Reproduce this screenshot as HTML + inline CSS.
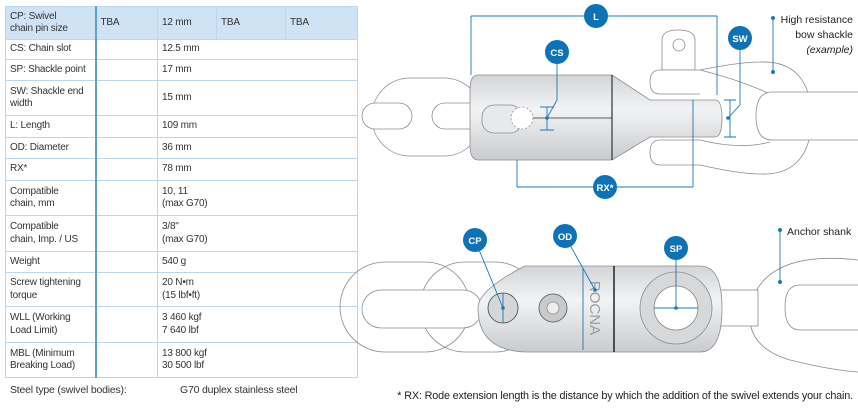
<!DOCTYPE html>
<html><head><meta charset="utf-8"><style>
html,body{margin:0;padding:0;background:#fff;}
body{width:858px;height:411px;position:relative;overflow:hidden;font-family:"Liberation Sans",sans-serif;color:#333;}
table{position:absolute;left:5px;top:6px;width:353px;border-collapse:collapse;font-size:10px;line-height:12.5px;table-layout:fixed;letter-spacing:-0.2px;}
td{border:1px solid #bcd7ec;padding:0 4px;vertical-align:middle;white-space:nowrap;overflow:hidden;}
td.k{border-right:2px solid #5d9fd0;}
tr.h td{background:#cfe3f4;}
.steel{position:absolute;top:384px;font-size:10.5px;letter-spacing:-0.2px;}
svg{position:absolute;left:0;top:0;}
</style></head><body>
<table>
<colgroup><col style="width:90px"><col style="width:62px"><col style="width:59px"><col style="width:69px"><col></colgroup>
<tr class="h" style="height:33px"><td class="k">CP: Swivel<br>chain pin size</td><td>TBA</td><td>12 mm</td><td>TBA</td><td>TBA</td></tr>
<tr style="height:20px"><td class="k">CS: Chain slot</td><td></td><td colspan="3">12.5 mm</td></tr>
<tr style="height:21px"><td class="k">SP: Shackle point</td><td></td><td colspan="3">17 mm</td></tr>
<tr style="height:35px"><td class="k">SW: Shackle end<br>width</td><td></td><td colspan="3">15 mm</td></tr>
<tr style="height:22px"><td class="k">L: Length</td><td></td><td colspan="3">109 mm</td></tr>
<tr style="height:21px"><td class="k">OD: Diameter</td><td></td><td colspan="3">36 mm</td></tr>
<tr style="height:22px"><td class="k">RX*</td><td></td><td colspan="3">78 mm</td></tr>
<tr style="height:35px"><td class="k">Compatible<br>chain, mm</td><td></td><td colspan="3">10, 11<br>(max G70)</td></tr>
<tr style="height:36px"><td class="k">Compatible<br>chain, Imp. / US</td><td></td><td colspan="3">3/8"<br>(max G70)</td></tr>
<tr style="height:21px"><td class="k">Weight</td><td></td><td colspan="3">540 g</td></tr>
<tr style="height:34px"><td class="k">Screw tightening<br>torque</td><td></td><td colspan="3">20 N•m<br>(15 lbf•ft)</td></tr>
<tr style="height:36px"><td class="k">WLL (Working<br>Load Limit)</td><td></td><td colspan="3">3 460 kgf<br>7 640 lbf</td></tr>
<tr style="height:35px"><td class="k">MBL (Minimum<br>Breaking Load)</td><td></td><td colspan="3">13 800 kgf<br>30 500 lbf</td></tr>
</table>
<div class="steel" style="left:10px">Steel type (swivel bodies):</div>
<div class="steel" style="left:180px">G70 duplex stainless steel</div>

<svg width="858" height="411" viewBox="0 0 858 411">
<defs>
<linearGradient id="g" x1="0" y1="0" x2="0" y2="1"><stop offset="0" stop-color="#d2d4d7"/><stop offset=".4" stop-color="#f2f3f4"/><stop offset="1" stop-color="#c9cbce"/></linearGradient>
</defs>
<g fill="none" stroke="#8a8c8f" stroke-width="0.8">
<rect x="372" y="78" width="110" height="78" rx="38"/>
<rect x="362" y="103" width="50" height="26" rx="13" fill="#fff"/>
<rect x="432" y="103" width="60" height="26" rx="13" fill="#fff"/>
<path d="M662 70 L662 40 Q662 30 678 30 Q695 30 695 40 L695 70 Z" fill="#fff"/>
<circle cx="679" cy="45" r="6"/>
<path d="M700 70 Q740 62 760 62 Q810 60 812 118 Q810 176 760 174 Q740 174 700 165 L660 165 Q650 165 650 152 Q650 140 660 140 L700 140 Q740 150 770 142" fill="#fff"/>
<path d="M660 70 L700 70 Q740 80 770 94 M660 70 Q650 70 650 82 Q650 94 660 94 L700 94" fill="#fff"/>
<path d="M858 92 L772 92 Q756 92 756 116 Q756 140 772 140 L858 140" fill="#fff"/>
<path d="M478 75 L612 75 L650 100 L715 100 Q722 100 722 118 Q722 137 715 137 L650 137 L612 160 L478 160 Q470 160 470 145 L470 90 Q470 75 478 75 Z" fill="url(#g)"/>
<line x1="612" y1="75" x2="612" y2="160" stroke="#333" stroke-width="1.2"/>
<line x1="520" y1="118" x2="612" y2="118" stroke="#333"/>
<rect x="482" y="105" width="40" height="28" rx="12" fill="#e8e9ea"/>
<circle cx="522" cy="118" r="11" fill="#fff" stroke-dasharray="2 2"/>
<rect x="340" y="262" width="130" height="90" rx="45"/>
<rect x="420" y="262" width="120" height="90" rx="45"/>
<rect x="362" y="290" width="120" height="38" rx="19" fill="#fff"/>
<path d="M858 260 Q770 250 752 300 Q740 345 790 360 Q830 370 858 372" fill="#fff"/>
<path d="M858 285 L800 285 Q785 285 785 307 Q785 330 800 330 L858 330"/>
<rect x="718" y="290" width="40" height="36" fill="#fff"/>
<path d="M525 266 L700 266 Q722 266 722 308 Q722 352 700 352 L525 352 Q478 350 478 308 Q478 290 525 266 Z" fill="url(#g)"/>
<line x1="614" y1="266" x2="614" y2="352" stroke="#222" stroke-width="1.5"/>
<circle cx="676" cy="308" r="36" fill="#d6d8da"/>
<circle cx="676" cy="308" r="22" fill="#fff"/>
<circle cx="503" cy="308" r="15" fill="#d4d6d8" stroke="#444"/>
<circle cx="553" cy="308" r="14" fill="#c8cacc" stroke="#555"/>
<circle cx="553" cy="308" r="6" fill="#eee"/>
</g>
<text x="0" y="0" transform="translate(590 308) rotate(90)" text-anchor="middle" font-family="Liberation Sans" font-size="15" fill="#9a9c9f">ROCNA</text>
<g stroke="#1a78b8" stroke-width="0.9" fill="none">
<path d="M471 16 H717 M471 16 V75 M717 16 V95"/>
<path d="M517 187 H693 M517 160 V187 M693 100 V187"/>
<path d="M557 52 V100 L547 118 M547 107 V130 M540 107 H554 M540 130 H554"/>
<path d="M740 38 V105 L728 118 M730 100 V137 M724 100 H736 M724 137 H736"/>
<path d="M773 18 V72"/>
<path d="M475 240 L503 308 M503 293 V323"/>
<path d="M565 236 L595 290 M583 268 V350"/>
<path d="M676 248 V308 M654 308 H698"/>
<path d="M780 230 V282"/>
</g>
<g fill="#1a78b8"><circle cx="773" cy="18" r="2"/><circle cx="773" cy="72" r="2"/><circle cx="780" cy="230" r="2"/><circle cx="780" cy="282" r="2"/><circle cx="547" cy="118" r="1.8"/><circle cx="728" cy="118" r="1.8"/><circle cx="503" cy="308" r="1.8"/><circle cx="595" cy="290" r="1.8"/><circle cx="676" cy="308" r="1.8"/></g>
<g fill="#0e73b6">
<circle cx="596" cy="16" r="12"/><circle cx="557" cy="52" r="12"/><circle cx="740" cy="38" r="12"/><circle cx="605" cy="187" r="12"/>
<circle cx="475" cy="240" r="12"/><circle cx="565" cy="236" r="12"/><circle cx="676" cy="248" r="12"/>
</g>
<g fill="#fff" font-family="Liberation Sans" font-size="9.5" font-weight="bold" text-anchor="middle">
<text x="596" y="20">L</text><text x="557" y="56">CS</text><text x="740" y="42">SW</text><text x="605" y="191">RX*</text>
<text x="475" y="244">CP</text><text x="565" y="240">OD</text><text x="676" y="252">SP</text>
</g>
<g font-family="Liberation Sans" font-size="10.5" fill="#222">
<text x="853" y="23" text-anchor="end">High resistance</text>
<text x="853" y="38" text-anchor="end">bow shackle</text>
<text x="853" y="53" text-anchor="end" font-style="italic">(example)</text>
<text x="787" y="235">Anchor shank</text>
<text x="853" y="399" text-anchor="end" font-size="10.8" letter-spacing="-0.15">* RX: Rode extension length is the distance by which the addition of the swivel extends your chain.</text>
</g>
</svg>
</body></html>
